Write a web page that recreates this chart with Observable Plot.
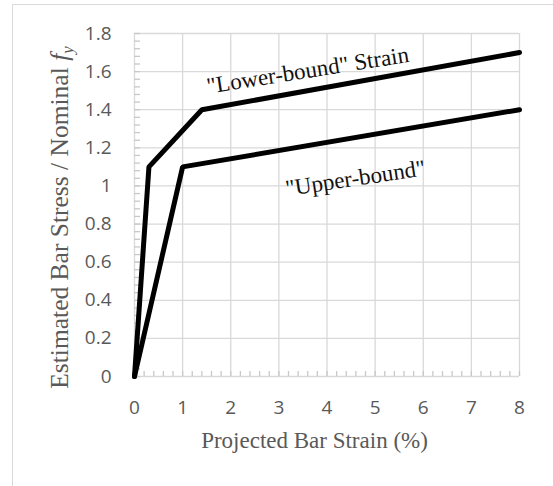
<!DOCTYPE html>
<html><head><meta charset="utf-8">
<script src="https://cdn.jsdelivr.net/npm/d3@7"></script>
<script src="https://cdn.jsdelivr.net/npm/@observablehq/plot@0.6"></script>
<style>
html,body{margin:0;padding:0;background:#fff;}
#wrap{position:relative;width:553px;height:486px;overflow:hidden;background:#fff;}
#border{position:absolute;left:12px;top:4px;width:580px;height:520px;border:1.5px solid #d9d9d9;box-sizing:border-box;}
#chart{position:absolute;left:0;top:0;}
</style></head><body><div id="wrap"><div id="border"></div><div id="chart"></div></div>
<script>
// Data
const lowerStrain = [0, 0.3, 1.4, 8];
const lowerStress = [0, 1.1, 1.4, 1.7];
const upperStrain = [0, 1, 8];
const upperStress = [0, 1.1, 1.4];
// Ticks
const xTicks = [0, 1, 2, 3, 4, 5, 6, 7, 8];
const yTicks = [0, 0.2, 0.4, 0.6, 0.8, 1, 1.2, 1.4, 1.6, 1.8];
const yTickLabels = ["0", "0.2", "0.4", "0.6", "0.8", "1", "1.2", "1.4", "1.6", "1.8"];
const xMinorTicks = d3.range(0, 41).map(i => i / 5);
const yMinorTicks = d3.range(0, 46).map(i => i / 25);
// Annotations
const noteText = ['"Lower-bound" Strain', '"Upper-bound"'];
const noteX = [3.6, 4.59];
const noteY = [1.606, 1.04];
const noteAngle = [-9, -8.5];
// Titles
const xTitle = "Projected Bar Strain (%)";
const yTitle = "Estimated Bar Stress / Nominal ";

const lower = lowerStrain.map((x, i) => ({x, y: lowerStress[i]}));
const upper = upperStrain.map((x, i) => ({x, y: upperStress[i]}));
const notes = noteText.map((t, i) => ({t, x: noteX[i], y: noteY[i], r: noteAngle[i]}));

const grid = {stroke: "#d9d9d9", strokeOpacity: 1, strokeWidth: 1.3};
const plot = Plot.plot({
  width: 553, height: 486,
  marginLeft: 134, marginRight: 34, marginTop: 33, marginBottom: 110,
  style: {fontFamily: "'Open Sans', sans-serif", fontSize: "19px", color: "#595959", background: "transparent", overflow: "visible"},
  x: {domain: [0, 8]},
  y: {domain: [0, 1.8]},
  marks: [
    Plot.gridX(xTicks, grid),
    Plot.gridY(yTicks, grid),
    Plot.axisX(xMinorTicks, {tickSize: -5, tickFormat: () => "", label: null, stroke: "#c8c8c8", strokeWidth: 1.3}),
    Plot.axisY(yMinorTicks, {tickSize: -6, tickFormat: () => "", label: null, stroke: "#c8c8c8", strokeWidth: 1.3}),
    Plot.axisX(xTicks, {tickSize: 0, tickPadding: 24, label: null, tickFormat: d => String(d)}),
    Plot.axisY(yTicks, {tickSize: 0, tickPadding: 23, label: null, tickFormat: d => yTickLabels[yTicks.indexOf(d)]}),
    Plot.line(upper, {x: "x", y: "y", stroke: "#000", strokeWidth: 5, strokeLinejoin: "miter"}),
    Plot.line(lower, {x: "x", y: "y", stroke: "#000", strokeWidth: 5, strokeLinejoin: "miter"}),
    Plot.text(notes, {x: "x", y: "y", text: "t", rotate: "r", fontFamily: "'Liberation Serif', serif", fontSize: 23, fill: "#111"})
  ]
});
document.getElementById("chart").appendChild(plot);

const svg = d3.select(plot);
const sx = plot.scale("x"), sy = plot.scale("y");
svg.append("text")
  .attr("x", (sx.range[0] + sx.range[1]) / 2 - 12)
  .attr("y", sy.range[0] + 72)
  .attr("text-anchor", "middle")
  .attr("font-family", "'Liberation Serif', serif")
  .attr("font-size", 23)
  .attr("fill", "#595959")
  .text(xTitle);
const yt = svg.append("text")
  .attr("transform", `translate(68,${(sy.range[0] + sy.range[1]) / 2 + 13}) rotate(-90)`)
  .attr("text-anchor", "middle")
  .attr("font-family", "'Liberation Serif', serif")
  .attr("font-size", 25.5)
  .attr("fill", "#595959");
yt.append("tspan").text(yTitle);
yt.append("tspan").attr("font-style", "italic").text("f");
yt.append("tspan").attr("font-size", 17).attr("dy", 5).attr("font-style", "italic").text("y");
</script>
</body></html>
